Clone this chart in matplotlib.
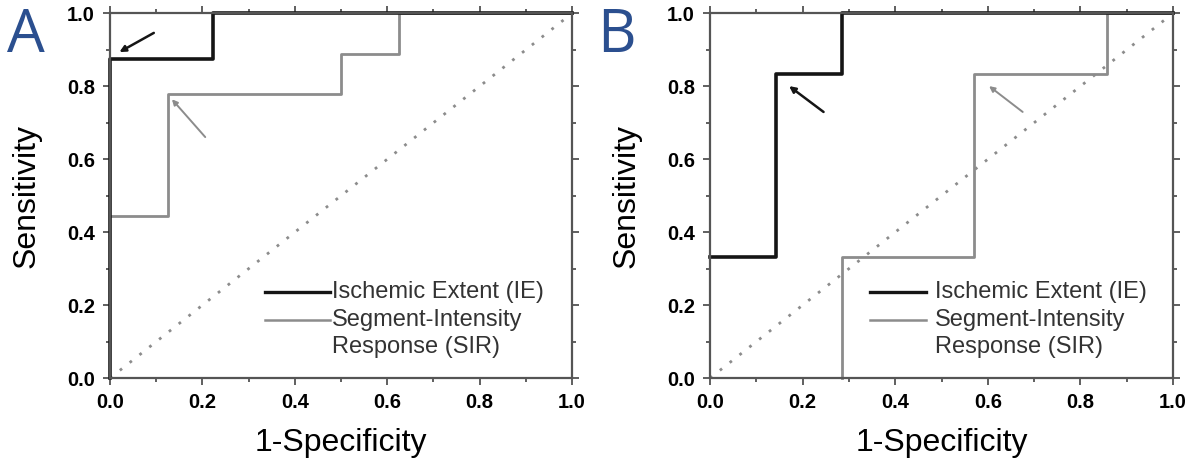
import matplotlib.pyplot as plt

# ROC step curves
a_ie_x = [0, 0, 0.222, 0.222, 1.0]
a_ie_y = [0, 0.875, 0.875, 1.0, 1.0]
a_sir_x = [0, 0.125, 0.125, 0.5, 0.5, 0.625, 0.625, 1.0]
a_sir_y = [0.444, 0.444, 0.778, 0.778, 0.889, 0.889, 1.0, 1.0]

b_ie_x = [0, 0.143, 0.143, 0.286, 0.286, 1.0]
b_ie_y = [0.333, 0.333, 0.833, 0.833, 1.0, 1.0]
b_sir_x = [0.286, 0.286, 0.571, 0.571, 0.857, 0.857, 1.0]
b_sir_y = [0, 0.333, 0.333, 0.833, 0.833, 1.0, 1.0]

ticks = [0.0, 0.2, 0.4, 0.6, 0.8, 1.0]
tick_labels = ['0.0', '0.2', '0.4', '0.6', '0.8', '1.0']

BLACK = '#151515'
GRAY = '#8c8c8c'
BLUE = '#2b4f8f'

plt.rcParams['font.family'] = ['Liberation Sans', 'DejaVu Sans']

fig = plt.figure(figsize=(12, 4.75), dpi=100)
ax_a = fig.add_axes([0.0917, 0.204, 0.385, 0.768])
ax_b = fig.add_axes([0.5917, 0.204, 0.3858, 0.768])


def style(ax):
    ax.set_xlim(0, 1)
    ax.set_ylim(0, 1)
    ax.set_xticks(ticks)
    ax.set_yticks(ticks)
    ax.set_xticklabels(tick_labels, fontweight='bold', fontsize=14.5)
    ax.set_yticklabels(tick_labels, fontweight='bold', fontsize=14.5)
    ax.set_xticks([0.1, 0.3, 0.5, 0.7, 0.9], minor=True)
    ax.set_yticks([0.1, 0.3, 0.5, 0.7, 0.9], minor=True)
    ax.tick_params(which='both', top=True, right=True, direction='out',
                   color='#444444', width=1.2)
    ax.tick_params(which='major', length=5, pad=6)
    ax.tick_params(which='minor', length=3)
    for s in ax.spines.values():
        s.set_color('#555555')
        s.set_linewidth(1.6)
    ax.set_xlabel('1-Specificity', fontsize=23, labelpad=11)
    ax.set_ylabel('Sensitivity', fontsize=23, labelpad=18)
    ax.plot([0, 1], [0, 1], color=GRAY, linestyle=(0, (1, 3.5)), lw=2)


def legend(ax, x0, x1, xt):
    ax.plot([x0, x1], [0.236, 0.236], color=BLACK, lw=2.4, transform=ax.transAxes)
    ax.plot([x0, x1], [0.159, 0.159], color=GRAY, lw=1.8, transform=ax.transAxes)
    ax.text(xt, 0.236, 'Ischemic Extent (IE)', transform=ax.transAxes,
            fontsize=17, va='center', color='#333333')
    ax.text(xt, 0.159, 'Segment-Intensity', transform=ax.transAxes,
            fontsize=17, va='center', color='#333333')
    ax.text(xt, 0.085, 'Response (SIR)', transform=ax.transAxes,
            fontsize=17, va='center', color='#333333')


# panel A
style(ax_a)
ax_a.plot(a_sir_x, a_sir_y, color=GRAY, lw=2, clip_on=False)
ax_a.plot(a_ie_x, a_ie_y, color=BLACK, lw=2.6, clip_on=False)
ax_a.annotate('', xy=(0.015, 0.89), xytext=(0.1, 0.95),
              arrowprops=dict(arrowstyle='-|>', color=BLACK, lw=1.8,
                              mutation_scale=9))
ax_a.annotate('', xy=(0.13, 0.77), xytext=(0.21, 0.655),
              arrowprops=dict(arrowstyle='-|>', color=GRAY, lw=1.4,
                              mutation_scale=8))
legend(ax_a, 0.335, 0.476, 0.48)
fig.text(0.006, 0.89, 'A', fontsize=43, color=BLUE, fontfamily='Open Sans',
         va='baseline')

# panel B
style(ax_b)
ax_b.plot(b_sir_x, b_sir_y, color=GRAY, lw=2, clip_on=False)
ax_b.plot(b_ie_x, b_ie_y, color=BLACK, lw=2.6, clip_on=False)
ax_b.annotate('', xy=(0.166, 0.805), xytext=(0.25, 0.725),
              arrowprops=dict(arrowstyle='-|>', color=BLACK, lw=1.8,
                              mutation_scale=9))
ax_b.annotate('', xy=(0.598, 0.805), xytext=(0.68, 0.725),
              arrowprops=dict(arrowstyle='-|>', color=GRAY, lw=1.4,
                              mutation_scale=8))
legend(ax_b, 0.345, 0.467, 0.486)
fig.text(0.498, 0.89, 'B', fontsize=43, color=BLUE, fontfamily='Open Sans',
         va='baseline')

fig.savefig('out.png', dpi=100)
